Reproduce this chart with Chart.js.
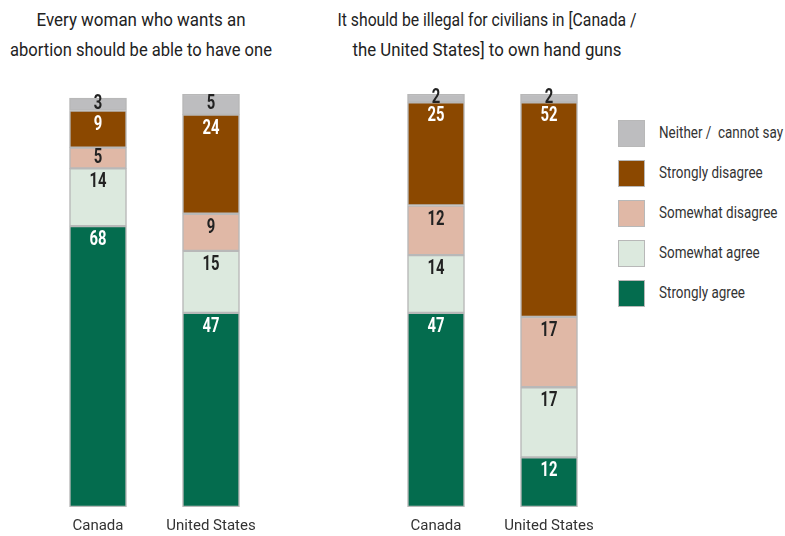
<!DOCTYPE html>
<html>
<head>
<meta charset="utf-8">
<script src="https://cdn.jsdelivr.net/npm/chart.js@4"></script>
<style>
  html, body { margin: 0; padding: 0; background: #fff; }
  body { width: 785px; height: 536px; position: relative; overflow: hidden;
         font-family: Roboto, "DejaVu Sans Condensed", sans-serif; color: #222; }
  .title { position: absolute; top: 5px; font-size: 19px; line-height: 30px; color: #222; }
  .title span { display: block; white-space: nowrap; text-align: center; transform-origin: center; }
  .box { position: absolute; top: 0; height: 539px; }
  .legend { position: absolute; left: 618px; top: 120px; }
  .legend .row { position: relative; height: 40px; }
  .legend .sw { position: absolute; left: 0; top: 0; width: 27px; height: 27px; box-sizing: border-box; border: 1.5px solid #b8b8b8; }
  .legend .lb { position: absolute; left: 41px; top: 3px; font-size: 16px; color: #333; white-space: nowrap; transform-origin: left center; }
</style>
</head>
<body>
<div class="title" style="left:-40px;width:362px;"><span data-w="209">Every woman who wants an</span><span data-w="262">abortion should be able to have one</span></div>
<div class="title" style="left:287px;width:400px;"><span data-w="299">It should be illegal for civilians in [Canada /</span><span data-w="269">the United States] to own hand guns</span></div>
<div class="box" style="left:30px;width:250px;"><canvas id="c1"></canvas></div>
<div class="box" style="left:368px;width:250px;"><canvas id="c2"></canvas></div>
<div class="legend" id="legend"></div>
<script>
// ── 類別與數據 ──
const categories = ['Canada', 'United States'];
const seriesNames = ['Strongly agree', 'Somewhat agree', 'Somewhat disagree', 'Strongly disagree', 'Neither /  cannot say'];
const seriesColors = ['#046c4e', '#dce9de', '#e0b8a6', '#8b4800', '#bdbdbf'];
const labelColors  = ['#ffffff', '#222222', '#222222', '#ffffff', '#222222'];

// abortion panel
const abortStrAgree  = [68, 47];
const abortSomAgree  = [14, 15];
const abortSomDis    = [5, 9];
const abortStrDis    = [9, 24];
const abortNeither   = [3, 5];

// hand guns panel
const gunStrAgree  = [47, 12];
const gunSomAgree  = [14, 17];
const gunSomDis    = [12, 17];
const gunStrDis    = [25, 52];
const gunNeither   = [2, 2];

const FONT = 'Roboto, "DejaVu Sans Condensed", sans-serif';

// 段內數值標籤（橫向壓縮以模擬窄體字）
const segLabels = {
  id: 'segLabels',
  afterDatasetsDraw(chart) {
    const ctx = chart.ctx;
    chart.data.datasets.forEach((ds, i) => {
      chart.getDatasetMeta(i).data.forEach((bar, j) => {
        const v = ds.data[j];
        if (v == null) return;
        const h = bar.base - bar.y;
        ctx.save();
        ctx.translate(bar.x, bar.y + Math.min(h / 2 - 1, 13));
        ctx.scale(0.74, 1);
        ctx.font = 'bold 20px ' + FONT;
        ctx.textAlign = 'center';
        ctx.textBaseline = 'middle';
        ctx.fillStyle = labelColors[i];
        ctx.fillText(String(v), 0, 1);
        ctx.restore();
      });
    });
  }
};

function makeChart(id, series) {
  return new Chart(document.getElementById(id), {
    type: 'bar',
    data: {
      labels: categories,
      datasets: series.map((d, i) => ({
        label: seriesNames[i],
        data: d,
        backgroundColor: seriesColors[i],
        borderColor: '#b8b8b8',
        borderWidth: 1.5,
        borderSkipped: false,
        barThickness: 57,
      })),
    },
    options: {
      responsive: true,
      maintainAspectRatio: false,
      animation: false,
      layout: { padding: { left: 11.5, right: 12.5, top: 94, bottom: 2 } },
      plugins: { legend: { display: false }, tooltip: { enabled: false } },
      scales: {
        x: {
          stacked: true,
          grid: { display: false },
          border: { display: false },
          ticks: { color: '#333', font: { family: FONT, size: 15 }, padding: 2 },
        },
        y: {
          stacked: true,
          display: false,
          min: 0,
          max: 100,
        },
      },
    },
    plugins: [segLabels],
  });
}

makeChart('c1', [abortStrAgree, abortSomAgree, abortSomDis, abortStrDis, abortNeither]);
makeChart('c2', [gunStrAgree, gunSomAgree, gunSomDis, gunStrDis, gunNeither]);

// ── 圖例（由上而下：反序） ──
const legendEl = document.getElementById('legend');
legendEl.innerHTML = seriesNames.map((n, i) => ({ n, i })).reverse().map(({ n, i }) =>
  `<div class="row"><div class="sw" style="background:${seriesColors[i]}"></div><div class="lb">${n.replace(/ /g, '&nbsp;')}</div></div>`
).join('');
legendEl.querySelectorAll('.lb').forEach(el => { el.style.transform = 'scaleX(0.84)'; });

// 標題：按參考寬度壓縮
document.querySelectorAll('.title span').forEach(el => {
  el.style.display = 'inline-block';
  const w = el.getBoundingClientRect().width;
  el.style.display = 'block';
  el.style.transform = `scaleX(${(+el.dataset.w / w).toFixed(3)})`;
});
</script>
</body>
</html>
